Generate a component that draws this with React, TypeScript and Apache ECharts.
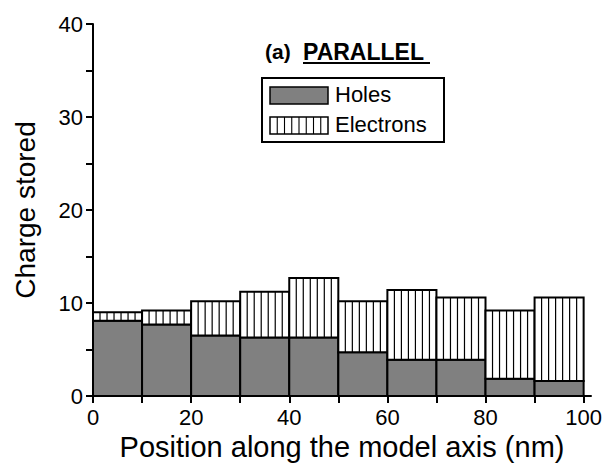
import React, { useEffect, useRef } from "react";
import * as echarts from "echarts";

const binStarts = [0, 10, 20, 30, 40, 50, 60, 70, 80, 90];
const binWidth = 10;
const holes = [8.1, 7.7, 6.5, 6.3, 6.3, 4.7, 3.9, 3.9, 1.85, 1.6];
const electrons = [0.9, 1.5, 3.7, 4.9, 6.4, 5.5, 7.5, 6.7, 7.35, 9.0];
const xTicks = [0, 10, 20, 30, 40, 50, 60, 70, 80, 90, 100];
const xLabels = [0, 20, 40, 60, 80, 100];
const yTicks = [0, 5, 10, 15, 20, 25, 30, 35, 40];
const yLabels = [0, 10, 20, 30, 40];

const FONT = "Liberation Sans, Arial, Helvetica, sans-serif";

export default function App() {
  const ref = useRef<HTMLDivElement>(null);
  useEffect(() => {
    if (!ref.current) return;
    const chart = echarts.init(ref.current, undefined, { renderer: "svg" });

    const holesData = binStarts.map((s, i) => [s, s + binWidth, 0, holes[i]]);
    const elecData = binStarts.map((s, i) => [s, s + binWidth, holes[i], holes[i] + electrons[i]]);

    const makeRender = (hatched: boolean) => (params: any, api: any) => {
      const x0 = api.value(0), x1 = api.value(1), b = api.value(2), t = api.value(3);
      const p0 = api.coord([x0, b]);
      const p1 = api.coord([x1, t]);
      const x = p0[0], y = p1[1], w = p1[0] - p0[0], h = p0[1] - p1[1];
      const children: any[] = [
        { type: "rect", shape: { x, y, width: w, height: h }, style: { fill: hatched ? "#ffffff" : "#808080", stroke: "none" } },
      ];
      if (hatched) {
        const n = 7;
        for (let k = 1; k < n; k++) {
          const lx = x + (w * k) / n;
          children.push({ type: "line", shape: { x1: lx, y1: y, x2: lx, y2: y + h }, style: { stroke: "#000", lineWidth: 1.2 } });
        }
      }
      children.push({ type: "rect", shape: { x, y, width: w, height: h }, style: { fill: "none", stroke: "#000", lineWidth: 2 } });
      return { type: "group", children };
    };

    const legendHatch: any[] = [];
    for (let k = 1; k < 8; k++) {
      const lx = 270 + (58 * k) / 8;
      legendHatch.push({ type: "line", shape: { x1: lx, y1: 117, x2: lx, y2: 134 }, style: { stroke: "#000", lineWidth: 1.1 } });
    }

    chart.setOption({
      animation: false,
      backgroundColor: "#ffffff",
      grid: { left: 93, right: 17, top: 24, bottom: 74 },
      xAxis: {
        type: "value",
        min: 0,
        max: 101.5,
        name: "Position along the model axis (nm)",
        nameLocation: "middle",
        nameGap: 35,
        nameTextStyle: { fontFamily: FONT, fontSize: 29, color: "#000" },
        axisLine: { show: true, lineStyle: { color: "#000", width: 2 } },
        axisTick: { show: true, length: 7, customValues: xTicks, lineStyle: { color: "#000", width: 2 } },
        axisLabel: { customValues: xLabels, fontFamily: FONT, fontSize: 22, color: "#000", margin: 10 },
        splitLine: { show: false },
      },
      yAxis: {
        type: "value",
        min: 0,
        max: 40,
        name: "Charge stored",
        nameLocation: "middle",
        nameGap: 54,
        nameRotate: 90,
        nameTextStyle: { fontFamily: FONT, fontSize: 28, color: "#000" },
        axisLine: { show: true, lineStyle: { color: "#000", width: 2 } },
        axisTick: { show: true, length: 7, customValues: yTicks, lineStyle: { color: "#000", width: 2 } },
        axisLabel: { customValues: yLabels, fontFamily: FONT, fontSize: 22, color: "#000", margin: 10 },
        splitLine: { show: false },
      },
      series: [
        { type: "custom", name: "Holes", data: holesData, renderItem: makeRender(false), encode: { x: [0, 1], y: [2, 3] }, z: 2 },
        { type: "custom", name: "Electrons", data: elecData, renderItem: makeRender(true), encode: { x: [0, 1], y: [2, 3] }, z: 2 },
      ],
      graphic: [
        { type: "text", left: 265, top: 41, style: { text: "(a)", fontFamily: FONT, fontSize: 21, fontWeight: "bold", fill: "#000" } },
        { type: "text", left: 303, top: 40, style: { text: "PARALLEL", fontFamily: FONT, fontSize: 23, fontWeight: "bold", fill: "#000" } },
        { type: "line", shape: { x1: 303, y1: 63, x2: 430, y2: 63 }, style: { stroke: "#000", lineWidth: 2 } },
        { type: "rect", shape: { x: 262, y: 78, width: 182, height: 64 }, style: { fill: "#fff", stroke: "#000", lineWidth: 2 } },
        { type: "rect", shape: { x: 270, y: 87, width: 58, height: 17 }, style: { fill: "#808080", stroke: "#000", lineWidth: 1.5 } },
        { type: "rect", shape: { x: 270, y: 117, width: 58, height: 17 }, style: { fill: "#fff", stroke: "none" } },
        ...legendHatch,
        { type: "rect", shape: { x: 270, y: 117, width: 58, height: 17 }, style: { fill: "none", stroke: "#000", lineWidth: 1.5 } },
        { type: "text", left: 335, top: 83, style: { text: "Holes", fontFamily: FONT, fontSize: 22, fill: "#000" } },
        { type: "text", left: 335, top: 113, style: { text: "Electrons", fontFamily: FONT, fontSize: 22, fill: "#000" } },
      ],
    });
    return () => chart.dispose();
  }, []);
  return <div ref={ref} style={{ width: 608, height: 470, position: "absolute", left: 0, top: 0 }} />;
}
